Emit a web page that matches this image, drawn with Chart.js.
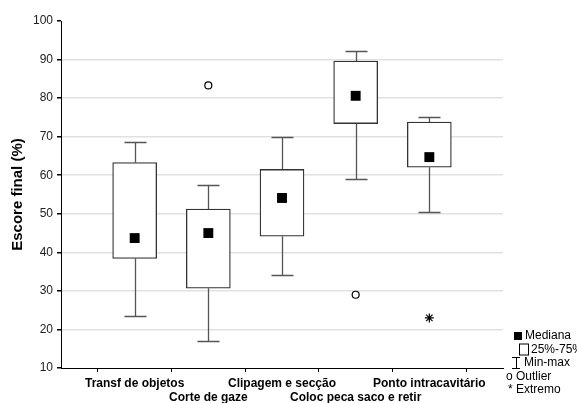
<!DOCTYPE html>
<html>
<head>
<meta charset="utf-8">
<script src="https://cdn.jsdelivr.net/npm/chart.js@4.4.1/dist/chart.umd.min.js"></script>
<style>
  html, body { margin: 0; padding: 0; background: #fff; }
  #wrap { width: 577px; height: 403px; }
</style>
</head>
<body>
<div id="wrap"><canvas id="box" width="577" height="403"></canvas></div>
<script>
// dados
const categories = ['Transf de objetos', 'Corte de gaze', 'Clipagem e secção', 'Coloc peca saco e retir', 'Ponto intracavitário'];
const positions = [1, 2, 3, 4, 5];
const medians = [43.7, 45.0, 54.1, 80.6, 64.7];
const q1 = [38.4, 30.7, 44.2, 73.4, 62.1];
const q3 = [63.3, 51.2, 61.5, 89.6, 73.8];
const mins = [23.6, 17.0, 34.1, 59.0, 50.5];
const maxs = [68.7, 57.4, 70.0, 92.3, 75.1];
const outlierPos = [2, 4];
const outlierVals = [83.3, 29.0];
const extremePos = [5];
const extremeVals = [23.0];
const yTicks = [10, 20, 30, 40, 50, 60, 70, 80, 90, 100];
const legendItems = ['Mediana', '25%-75%', 'Min-max', 'Outlier', 'Extremo'];

const FONT = '"Liberation Sans", Arial, sans-serif';

// bigodes (min-max) desenhados com as escalas do gráfico
const whiskers = {
  id: 'whiskers',
  beforeDatasetsDraw(chart) {
    const { ctx, scales: { x, y } } = chart;
    const cap = 11;
    ctx.save();
    ctx.strokeStyle = '#555';
    ctx.lineWidth = 1.3;
    positions.forEach((p, i) => {
      const px = Math.round(x.getPixelForValue(p)) + 0.5;
      const yMax = Math.round(y.getPixelForValue(maxs[i])) + 0.5;
      const yMin = Math.round(y.getPixelForValue(mins[i])) + 0.5;
      const yQ3 = y.getPixelForValue(q3[i]);
      const yQ1 = y.getPixelForValue(q1[i]);
      ctx.beginPath();
      ctx.moveTo(px, yMax); ctx.lineTo(px, yQ3);
      ctx.moveTo(px, yQ1); ctx.lineTo(px, yMin);
      ctx.moveTo(px - cap, yMax); ctx.lineTo(px + cap, yMax);
      ctx.moveTo(px - cap, yMin); ctx.lineTo(px + cap, yMin);
      ctx.stroke();
    });
    ctx.restore();
  }
};

// legenda no canto inferior direito
const sideLegend = {
  id: 'sideLegend',
  afterDraw(chart) {
    const ctx = chart.ctx;
    ctx.save();
    ctx.font = '12px ' + FONT;
    ctx.fillStyle = '#000';
    ctx.strokeStyle = '#000';
    ctx.textBaseline = 'middle';
    const rows = [336, 349.5, 363, 376.5, 390];
    // Mediana
    ctx.fillRect(514, rows[0] - 4, 8, 8);
    ctx.fillText(legendItems[0], 525, rows[0]);
    // 25%-75%
    ctx.lineWidth = 1;
    ctx.strokeRect(519.5, rows[1] - 5.5, 9, 11);
    ctx.fillText(legendItems[1], 531, rows[1]);
    // Min-max
    ctx.beginPath();
    ctx.moveTo(512, rows[2] - 5.5); ctx.lineTo(520, rows[2] - 5.5);
    ctx.moveTo(516.5, rows[2] - 5.5); ctx.lineTo(516.5, rows[2] + 5.5);
    ctx.moveTo(512, rows[2] + 5.5); ctx.lineTo(520, rows[2] + 5.5);
    ctx.stroke();
    ctx.fillText(legendItems[2], 524, rows[2]);
    // Outlier / Extremo
    ctx.fillText('o ' + legendItems[3], 506, rows[3]);
    ctx.fillText('* ' + legendItems[4], 508, rows[4]);
    ctx.restore();
  }
};

const ctx = document.getElementById('box').getContext('2d');
new Chart(ctx, {
  type: 'bar',
  data: {
    datasets: [
      {
        type: 'scatter',
        data: positions.map((p, i) => ({ x: p, y: medians[i] })),
        pointStyle: 'rect',
        pointRadius: 7,
        backgroundColor: '#000',
        borderColor: '#000',
        borderWidth: 0,
        order: 0
      },
      {
        type: 'scatter',
        data: outlierPos.map((p, i) => ({ x: p, y: outlierVals[i] })),
        pointStyle: 'circle',
        pointRadius: 3.5,
        backgroundColor: '#fff',
        borderColor: '#000',
        borderWidth: 1.2,
        order: 0
      },
      {
        type: 'scatter',
        data: extremePos.map((p, i) => ({ x: p, y: extremeVals[i] })),
        pointStyle: 'star',
        pointRadius: 4.5,
        backgroundColor: '#000',
        borderColor: '#000',
        borderWidth: 1.2,
        order: 0
      },
      {
        type: 'bar',
        data: positions.map((p, i) => ({ x: p, y: [q1[i], q3[i]] })),
        backgroundColor: '#fff',
        borderColor: '#333',
        borderWidth: 1.3,
        borderSkipped: false,
        barThickness: 44,
        order: 1
      }
    ]
  },
  options: {
    responsive: false,
    animation: false,
    layout: { padding: { top: 21, right: 74, left: 0, bottom: 0 } },
    plugins: { legend: { display: false }, tooltip: { enabled: false } },
    scales: {
      x: {
        type: 'linear',
        min: 0,
        max: 6,
        offset: false,
        afterFit(scale) { scale.height = 35; },
        afterBuildTicks(scale) { scale.ticks = [0, 1, 2, 3, 4, 5, 6].map(v => ({ value: v })); },
        grid: { drawOnChartArea: false, tickLength: 4, tickColor: '#000', lineWidth: 1 },
        border: { color: '#000', width: 1 },
        ticks: {
          autoSkip: false,
          maxRotation: 0,
          minRotation: 0,
          padding: 4,
          color: '#000',
          font: { family: FONT, size: 12, weight: 'bold', lineHeight: 1.2 },
          callback(v) {
            const label = categories[v - 1];
            if (!label) return '';
            return v % 2 === 1 ? label : ['', label];
          }
        }
      },
      y: {
        min: 10,
        max: 100,
        afterFit(scale) { scale.width = 61; },
        afterBuildTicks(scale) { scale.ticks = yTicks.map(v => ({ value: v })); },
        grid: {
          color: c => (c.tick && (c.tick.value === 100 || c.tick.value === 10)) ? 'rgba(0,0,0,0)' : '#e1e1e1',
          lineWidth: 1.5,
          tickLength: 4,
          tickColor: '#000'
        },
        border: { color: '#000', width: 1 },
        ticks: {
          padding: 4,
          color: '#222',
          font: { family: FONT, size: 12 }
        },
        title: {
          display: true,
          text: 'Escore final (%)',
          color: '#000',
          font: { family: FONT, size: 15, weight: 'bold' },
          padding: { top: 9, bottom: 4 }
        }
      }
    }
  },
  plugins: [whiskers, sideLegend]
});
</script>
</body>
</html>
